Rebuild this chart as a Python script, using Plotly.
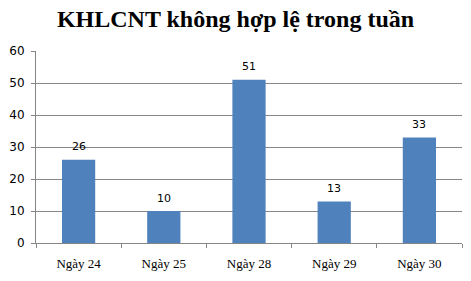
import plotly.graph_objects as go

categories = ["Ngày 24", "Ngày 25", "Ngày 28", "Ngày 29", "Ngày 30"]
values = [26, 10, 51, 13, 33]
y_ticks = [0, 10, 20, 30, 40, 50, 60]
title_text = "KHLCNT không hợp lệ trong tuần"

fig = go.Figure(go.Bar(
    x=categories, y=values,
    marker=dict(color="#4F81BD", line=dict(width=0)),
    cliponaxis=False,
))

for c, v in zip(categories, values):
    fig.add_annotation(x=c, y=v, text=str(v), showarrow=False, yanchor="middle",
                       yshift=13, font=dict(family="DejaVu Sans", size=11, color="#000000"))

fig.update_layout(
    width=471, height=281,
    margin=dict(l=36, r=9, t=51, b=38),
    paper_bgcolor="white", plot_bgcolor="white",
    bargap=0.61,
    showlegend=False,
    title=dict(text=title_text, x=0.5, xanchor="center", y=0.962, yanchor="top",
               font=dict(family="Liberation Serif", size=24, color="#000000", weight="bold")),
)

fig.update_yaxes(
    range=[0, 60], tickvals=y_ticks, showgrid=True, gridcolor="#868686", gridwidth=1,
    showline=True, linecolor="#868686", linewidth=1,
    ticks="outside", ticklen=4, tickcolor="#868686", ticklabelstandoff=4,
    tickfont=dict(family="DejaVu Sans", size=12, color="#000000"),
    zeroline=False,
)
fig.update_xaxes(
    showline=True, linecolor="#868686", linewidth=1,
    ticks="outside", ticklen=4, tickcolor="#868686", tickson="boundaries",
    ticklabelstandoff=8,
    tickfont=dict(family="Liberation Serif", size=13, color="#000000"),
    showgrid=False,
)

fig.write_html("out.html")
